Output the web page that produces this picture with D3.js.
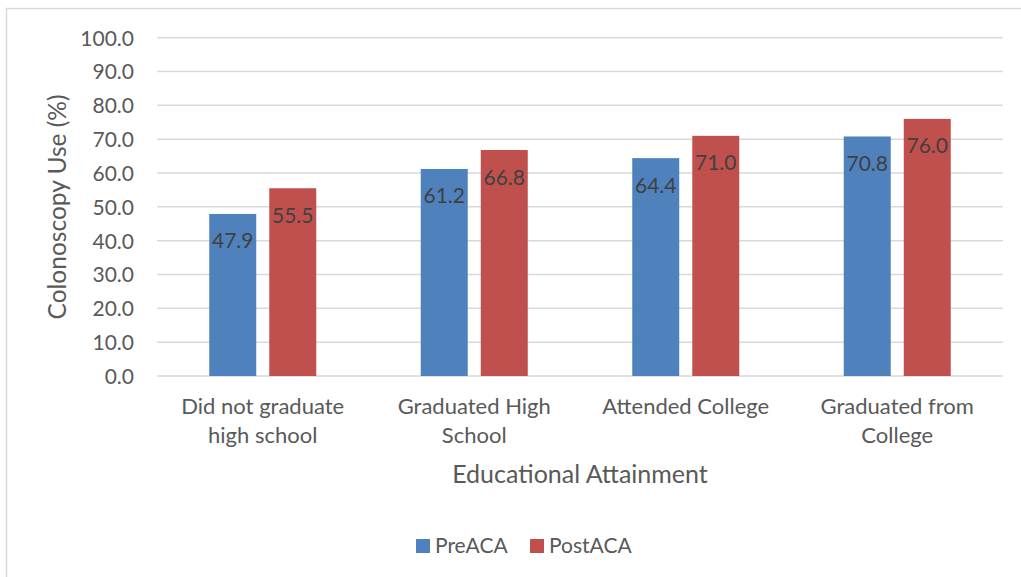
<!DOCTYPE html>
<html><head><meta charset="utf-8">
<script src="https://cdn.jsdelivr.net/npm/d3@7"></script>
<style>body{margin:0;background:#fff;} text{font-family:Lato, "Open Sans", sans-serif;}</style>
</head><body><svg id="c" width="1021" height="577"></svg>
<script>
const categories = [["Did not graduate","high school"],["Graduated High","School"],["Attended College"],["Graduated from","College"]];
const seriesNames = ["PreACA","PostACA"];
const preACA = [47.9, 61.2, 64.4, 70.8];
const postACA = [55.5, 66.8, 71.0, 76.0];
const yTicks = [0,10,20,30,40,50,60,70,80,90,100];
const colors = ["#4F81BD","#C0504D"];

const svg = d3.select("#c");
svg.append("rect").attr("x",6.5).attr("y",8.5).attr("width",1030).attr("height",600)
  .attr("fill","#fff").attr("stroke","#D9D9D9").attr("stroke-width",1.5);

const L=157,R=1003,T=37.7,B=376;
const y = d3.scaleLinear().domain([0,100]).range([B,T]);
const idx = categories.map((d,i)=>i);
const x0 = d3.scaleBand().domain(idx).range([L,R]).paddingInner(0.494).paddingOuter(0.247);
const x1 = d3.scaleBand().domain(seriesNames).range([0,x0.bandwidth()]).paddingInner(0.217);

// gridlines
svg.append("g").selectAll("line").data(yTicks).join("line")
  .attr("x1",L).attr("x2",R).attr("y1",d=>y(d)).attr("y2",d=>y(d))
  .attr("stroke","#D9D9D9").attr("stroke-width",1.5);

// y axis labels
const yAxis = d3.axisLeft(y).tickValues(yTicks).tickFormat(d3.format(".1f")).tickSize(0).tickPadding(0);
const ga = svg.append("g").attr("transform",`translate(${L-23},0)`).call(yAxis);
ga.select(".domain").remove();
ga.selectAll("text").attr("font-size",21).attr("fill","#595959").attr("font-family","Lato").attr("dy","0.35em");

const data = idx.map(i=>[{s:"PreACA",v:preACA[i]},{s:"PostACA",v:postACA[i]}]);
const groups = svg.append("g").selectAll("g").data(data).join("g")
  .attr("transform",(d,i)=>`translate(${x0(i)},0)`);
groups.selectAll("rect").data(d=>d).join("rect")
  .attr("x",d=>x1(d.s)).attr("width",x1.bandwidth())
  .attr("y",d=>y(d.v)).attr("height",d=>B-y(d.v))
  .attr("fill",(d,j)=>colors[j]);
groups.selectAll("text").data(d=>d).join("text")
  .attr("x",d=>x1(d.s)+x1.bandwidth()/2).attr("y",d=>y(d.v)+34.5)
  .attr("text-anchor","middle").attr("font-size",21).attr("fill","#404040")
  .text(d=>d.v.toFixed(1));

// category labels
const cg = svg.append("g").selectAll("text").data(categories).join("text")
  .attr("x",(d,i)=>x0(i)+x0.bandwidth()/2).attr("y",414)
  .attr("text-anchor","middle").attr("font-size",22).attr("fill","#595959");
cg.selectAll("tspan").data(d=>d).join("tspan")
  .attr("x",function(){return this.parentNode.getAttribute("x");})
  .attr("dy",(d,i)=>i===0?0:29).text(d=>d);

// axis titles
svg.append("text").attr("x",(L+R)/2).attr("y",483).attr("text-anchor","middle")
  .attr("font-size",25).attr("fill","#595959").text("Educational Attainment");
svg.append("text").attr("transform","translate(66,207) rotate(-90)").attr("text-anchor","middle")
  .attr("font-size",24.5).attr("fill","#595959").text("Colonoscopy Use (%)");

// legend
const leg = [{n:"PreACA",x:416},{n:"PostACA",x:530}];
const lg = svg.append("g").selectAll("g").data(leg).join("g");
lg.append("rect").attr("x",d=>d.x).attr("y",539).attr("width",14).attr("height",14)
  .attr("fill",(d,i)=>colors[i]);
lg.append("text").attr("x",d=>d.x+19).attr("y",553).attr("font-size",21).attr("fill","#595959").text(d=>d.n);
</script></body></html>
